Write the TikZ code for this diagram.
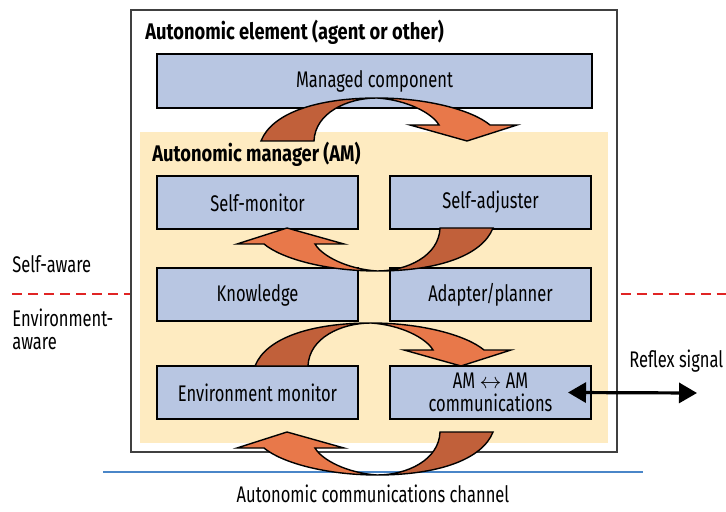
\documentclass[tikz,border=0pt]{standalone}
\usepackage{fontspec}
\setmainfont{Fira Sans}[FakeStretch=0.73]
\newfontfamily\headfont{Fira Sans}[FakeStretch=0.81]
\usepackage{tikz}
\usetikzlibrary{arrows.meta,calc}

\definecolor{boxblue}{HTML}{B8C6E2}
\definecolor{amyellow}{HTML}{FEEBC1}
\definecolor{turndark}{HTML}{C1603A}
\definecolor{turnlight}{HTML}{E8784A}
\definecolor{awarered}{HTML}{E02424}
\definecolor{channelblue}{HTML}{4A86C8}

\begin{document}
\begin{tikzpicture}[x=0.5pt, y=-0.5pt,
    every node/.style={font=\fontsize{11.3}{11.5}\selectfont},
    block/.style={rectangle, draw=black, line width=1pt, fill=boxblue, minimum width=100.5pt, minimum height=26.5pt, inner sep=0pt, align=center},
    heading/.style={anchor=base west, inner sep=0pt, font=\fontsize{11.3}{11.5}\selectfont\headfont\bfseries},
    sidelabel/.style={anchor=base west, inner sep=0pt, align=left},
    awareline/.style={awarered, line width=1pt, dash pattern=on 5pt off 3pt},
    uturn/.pic={
        \filldraw[fill=turndark, draw=black, line width=0.7pt]
            (-116,43) .. controls (-105,15) and (-60,0) .. (0,0)
            .. controls (-30,0) and (-62,15) .. (-63,43) -- cycle;
        \filldraw[fill=turnlight, draw=black, line width=0.7pt]
            (0,0) .. controls (50,0) and (95,12) .. (113,27)
            -- (140,27) -- (90,43) -- (33,27) -- (62,27)
            .. controls (55,15) and (30,2) .. (0,0) -- cycle;
    }]
    \useasboundingbox (0,0) rectangle (726,512);

    \coordinate (awareleft) at (12,294);
    \coordinate (awareright) at (726,294);
    \coordinate (channelleft) at (103,472);
    \coordinate (channelright) at (643,472);
    \coordinate (reflexend) at (697,393);

    \draw[channelblue, line width=1.2pt] (channelleft) -- (channelright);

    \node (element) at (374,231) [draw=black!75, line width=0.7pt, fill=white, minimum width=243pt, minimum height=221pt] {};
    \node (manager) at (374,287.5) [fill=amyellow, minimum width=234pt, minimum height=155.5pt] {};

    \draw[awareline] (awareleft) -- (awareleft -| element.west);
    \draw[awareline] ($(awareright -| element.east)+(3,0)$) -- (awareright);

    \node[heading] (elementtitle) at (145,40) {Autonomic element (agent or other)};
    \node[heading] (managertitle) at (152,162) {Autonomic manager (AM)};

    \node[block, minimum width=217.5pt, minimum height=27pt] (managed) at (374.5,81) {Managed component};
    \node[block] (selfmon) at (257.5,202.5) {Self-monitor};
    \node[block] (selfadj) at (490.5,202.5) {Self-adjuster};
    \node[block] (knowledge) at (257.5,295) {Knowledge};
    \node[block] (adapter) at (490.5,295) {Adapter/planner};
    \node[block] (envmon) at (257.5,392.5) {Environment monitor};
    \node[block] (amcomm) at (490.5,392.5) {AM $\leftrightarrow$ AM\\communications};

    \pic at (377,98) {uturn};
    \pic[rotate=180] at (377,271) {uturn};
    \pic at (371,323) {uturn};
    \pic[rotate=180] at (377,475) {uturn};

    \draw[{Triangle[length=9pt,width=10pt]}-{Triangle[length=9pt,width=10pt]}, line width=1.6pt] ($(amcomm.east)+(-24,0)$) -- (reflexend);

    \node[sidelabel] (selfaware) at (12,273) {Self-aware};
    \node[sidelabel] (envaware) at (12,350) {Environment-\\aware};
    \node[sidelabel] (reflexlabel) at (629,367) {Reflex signal};
    \node[anchor=base] (channel) at (373,502) {Autonomic communications channel};
\end{tikzpicture}
\end{document}
